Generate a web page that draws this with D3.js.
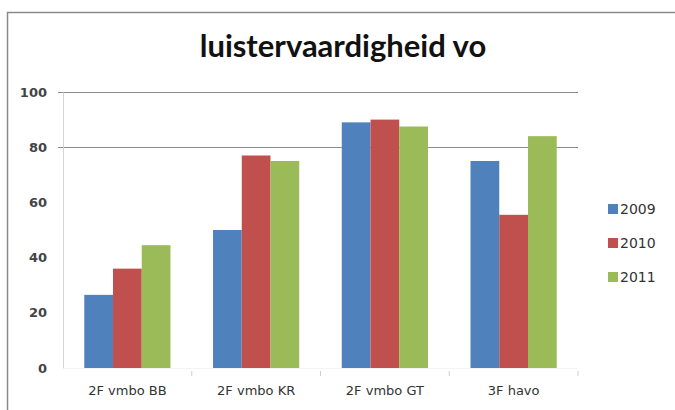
<!DOCTYPE html>
<html>
<head>
<meta charset="utf-8">
<script src="https://cdn.jsdelivr.net/npm/d3@7"></script>
<style>
  body { margin: 0; background: #fff; }
  svg { display: block; font-family: Lato, "Open Sans", sans-serif; }
</style>
</head>
<body>
<div id="viz"></div>
<script>
//Datos
const categorias = ['2F vmbo BB', '2F vmbo KR', '2F vmbo GT', '3F havo'];
const series = ['2009', '2010', '2011'];
const valores2009 = [26.5, 50, 89, 75];
const valores2010 = [36, 77, 90, 55.5];
const valores2011 = [44.5, 75, 87.5, 84];
const yTicks = [0, 20, 40, 60, 80, 100];
const gridValues = [80, 100];

//Colores fijos
const COLOR_BLUE = '#4F81BD',
COLOR_RED = '#C0504D',
COLOR_GREEN = '#9BBB59';

let width = 675, height = 410;
let margin = {top: 92, right: 97, bottom: 42, left: 63};

let svg = d3.select('#viz')
    .append('svg')
        .attr('width', width)
        .attr('height', height);

//Marco
svg.append('rect')
    .attr('x', 7.5).attr('y', 12.5)
    .attr('width', 700).attr('height', 420)
    .attr('fill', 'none')
    .attr('stroke', '#8a8a8a')
    .attr('stroke-width', 1.5);

//Título
svg.append('text')
    .attr('x', 343).attr('y', 57)
    .attr('text-anchor', 'middle')
    .style('font-size', '31px')
    .style('font-weight', '700')
    .attr('fill', '#111')
    .text('luistervaardigheid vo');

let g = svg.append('g')
    .attr('transform', 'translate(' + margin.left + ',' + margin.top + ')');

let w = width - margin.left - margin.right;

let x = d3.scaleBand()
    .domain(categorias)
    .range([0, w])
    .paddingInner(0)
    .paddingOuter(0);

let xSub = d3.scaleBand()
    .domain(series)
    .range([0, x.bandwidth()])
    .paddingInner(0)
    .paddingOuter(0.74);

let y = d3.scaleLinear()
    .domain([0, 100])
    .range([276, 0]);

let color = d3.scaleOrdinal()
    .domain(series)
    .range([COLOR_BLUE, COLOR_RED, COLOR_GREEN]);

//Líneas de cuadrícula
g.append('g')
    .selectAll('line')
    .data(gridValues)
    .enter()
    .append('line')
    .attr('x1', -5).attr('x2', w)
    .attr('y1', d => Math.round(y(d)) + 0.5)
    .attr('y2', d => Math.round(y(d)) + 0.5)
    .attr('stroke', '#8c8c8c')
    .attr('stroke-width', 1.2);

//Eje Y
let yAxis = g.append('g')
    .call(d3.axisLeft(y).tickValues(yTicks).tickSize(0).tickPadding(16).tickFormat(d3.format('d')));
yAxis.select('.domain').attr('stroke', '#d4d4d4');
yAxis.selectAll('text')
    .style('font-size', '13px')
    .style('font-family', '"DejaVu Sans", sans-serif')
    .style('font-weight', '700')
    .attr('fill', '#444');

//Eje X
let xAxis = g.append('g')
    .attr('transform', 'translate(0,' + y(0) + ')')
    .call(d3.axisBottom(x).tickSize(0).tickPadding(18));
xAxis.select('.domain').attr('stroke', '#f4f4f4');
xAxis.selectAll('text')
    .style('font-size', '13px')
    .style('font-family', '"DejaVu Sans", sans-serif')
    .attr('fill', '#333');

//Marcas entre categorías
g.append('g')
    .selectAll('line')
    .data(categorias)
    .enter()
    .append('line')
    .attr('x1', d => x(d) + x.bandwidth())
    .attr('x2', d => x(d) + x.bandwidth())
    .attr('y1', y(0) + 3).attr('y2', y(0) + 8)
    .attr('stroke', '#cfcfcf');

//Barras
let datos = categorias.map(function(c, i) {
    return {cat: c, valores: [valores2009[i], valores2010[i], valores2011[i]]};
});

g.append('g')
    .selectAll('g')
    .data(datos)
    .enter()
    .append('g')
    .attr('transform', d => 'translate(' + x(d.cat) + ',0)')
    .selectAll('rect')
    .data(d => series.map((s, i) => ({key: s, value: d.valores[i]})))
    .enter()
    .append('rect')
    .attr('fill', d => color(d.key))
    .attr('x', d => xSub(d.key))
    .attr('y', d => y(d.value))
    .attr('width', xSub.bandwidth())
    .attr('height', d => y(0) - y(d.value));

//Leyenda
let legend = svg.append('g')
    .attr('transform', 'translate(608,209)');

legend.selectAll('g')
    .data(series)
    .enter()
    .append('g')
    .attr('transform', (d, i) => 'translate(0,' + i * 34 + ')')
    .each(function(d) {
        let item = d3.select(this);
        item.append('rect')
            .attr('x', 0).attr('y', -5)
            .attr('width', 10).attr('height', 10)
            .attr('fill', color(d));
        item.append('text')
            .attr('x', 12).attr('y', 5)
            .style('font-size', '14px')
            .style('font-family', '"DejaVu Sans", sans-serif')
            .attr('fill', '#333')
            .text(d);
    });
</script>
</body>
</html>
